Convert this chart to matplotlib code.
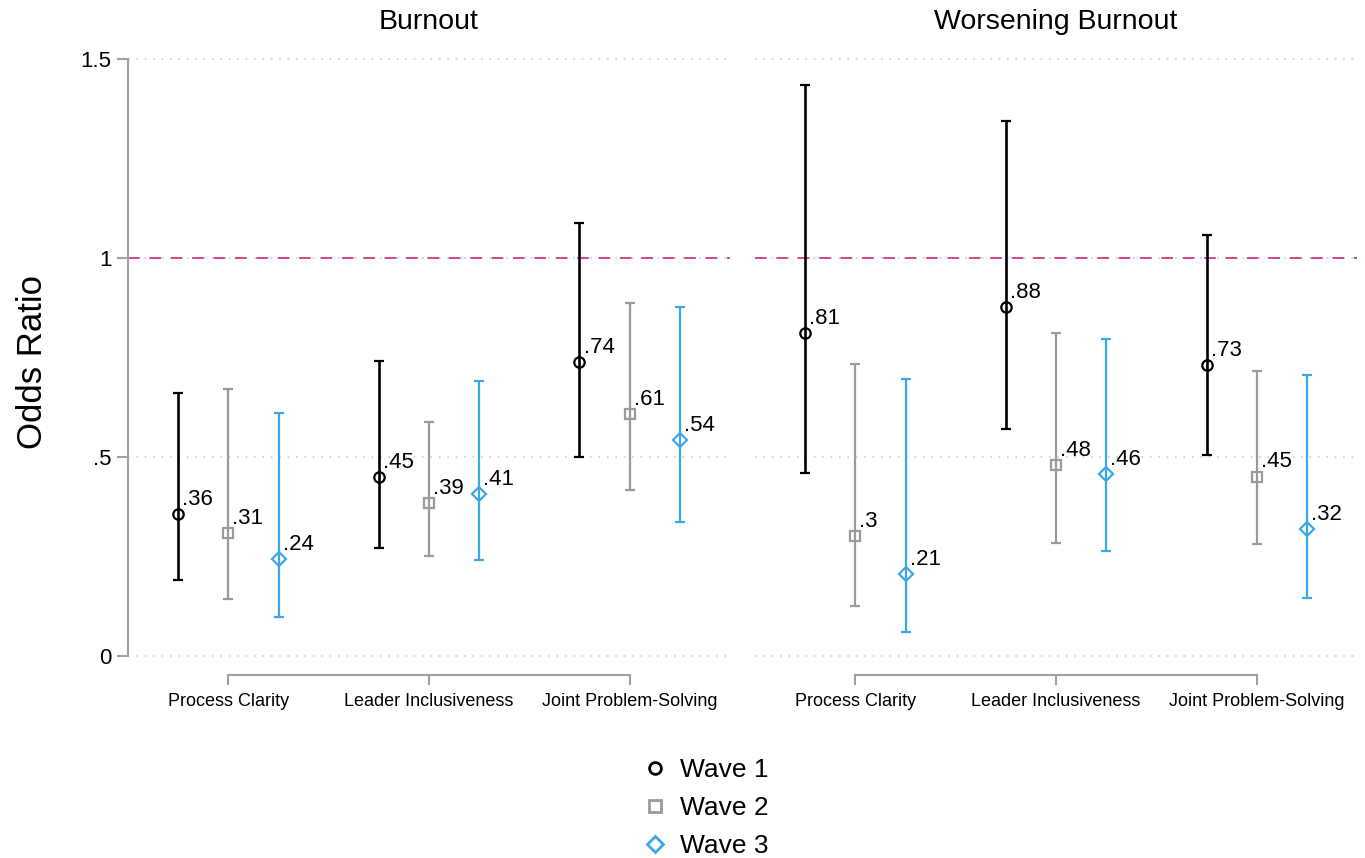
import matplotlib.pyplot as plt
from matplotlib.lines import Line2D
import numpy as np

plt.rcParams['font.family'] = ['Liberation Sans', 'DejaVu Sans']

panels = ["Burnout", "Worsening Burnout"]
categories = ["Process Clarity", "Leader Inclusiveness", "Joint Problem-Solving"]
waves = ["Wave 1", "Wave 2", "Wave 3"]

# rows = wave 1..3, columns = category
burnout_or = [[0.357, 0.449, 0.738],
              [0.310, 0.385, 0.608],
              [0.243, 0.407, 0.543]]
burnout_lo = [[0.191, 0.272, 0.500],
              [0.143, 0.251, 0.416],
              [0.098, 0.240, 0.336]]
burnout_hi = [[0.662, 0.740, 1.087],
              [0.671, 0.589, 0.888],
              [0.611, 0.691, 0.878]]

worse_or = [[0.812, 0.876, 0.732],
            [0.302, 0.479, 0.451],
            [0.206, 0.458, 0.318]]
worse_lo = [[0.459, 0.570, 0.505],
            [0.126, 0.283, 0.282],
            [0.061, 0.265, 0.145]]
worse_hi = [[1.434, 1.343, 1.059],
            [0.734, 0.812, 0.717],
            [0.695, 0.796, 0.705]]

colors = ["#000000", "#9a9a9a", "#3aa8e8"]
markers = ["o", "s", "D"]
msizes = [7.5, 7.5, 7.5]
offsets = [-0.25, 0.0, 0.25]
axis_grey = "#a0a0a0"


def fmt_label(v):
    # Stata-style: drop leading zero and trailing zeros
    return f"{v:.2f}".lstrip("0").rstrip("0")


W, H = 1365, 858
fig = plt.figure(figsize=(W / 100, H / 100), dpi=100)

ax_bot = 675
ax_top = 57
ylim = (-0.0477, 1.505)
rects = [(128, 730), (755, 1357)]

data = [(burnout_or, burnout_lo, burnout_hi), (worse_or, worse_lo, worse_hi)]
for p, (x0, x1) in enumerate(rects):
    ax = fig.add_axes([x0 / W, (H - ax_bot) / H, (x1 - x0) / W, (ax_bot - ax_top) / H])
    est, lo, hi = data[p]
    xs = np.arange(1, len(categories) + 1)
    for w in range(len(waves)):
        e = np.array(est[w])
        l = np.array(lo[w])
        h = np.array(hi[w])
        lw = 1.9 if w == 0 else 1.6
        ax.errorbar(xs + offsets[w], e, yerr=[e - l, h - e], fmt=markers[w],
                    color=colors[w], mfc="none", mec=colors[w], ms=msizes[w],
                    mew=1.6, elinewidth=lw, capsize=3.5, capthick=lw, zorder=3)
        for xi, yi in zip(xs + offsets[w], e):
            ax.annotate(fmt_label(yi), (xi, yi), xytext=(3, 10.5),
                        textcoords="offset points", ha="left", va="center",
                        fontsize=16, zorder=4)

    ax.axhline(1, color="#d4458a", lw=1.4, ls=(0, (6, 5)), zorder=2)
    ax.set_xlim(0.5, 3.5)
    ax.set_ylim(*ylim)
    ax.set_yticks([0, 0.5, 1, 1.5])
    ax.yaxis.grid(True, color="#c4c4c4", lw=1.1, ls=(0, (1, 4.5)), zorder=0)
    ax.set_axisbelow(True)
    ax.set_xticks(xs)
    ax.set_xticklabels(categories, fontsize=13)
    for s in ["top", "right"]:
        ax.spines[s].set_visible(False)
    ax.spines["bottom"].set_bounds(1, 3)
    ax.spines["bottom"].set_color(axis_grey)
    ax.spines["bottom"].set_linewidth(1.5)
    ax.tick_params(axis="x", length=7, width=1.5, color=axis_grey, pad=6)
    ax.set_title(panels[p], fontsize=20.5, pad=20)
    if p == 0:
        ax.spines["left"].set_bounds(0, 1.5)
        ax.spines["left"].set_color(axis_grey)
        ax.spines["left"].set_linewidth(1.5)
        ax.set_yticklabels(["0", ".5", "1", "1.5"], fontsize=16)
        ax.tick_params(axis="y", length=8, width=1.5, color=axis_grey, pad=4)
    else:
        ax.spines["left"].set_visible(False)
        ax.tick_params(axis="y", length=0, labelleft=False)

fig.text(32 / W, 1 - 362 / H, "Odds Ratio", rotation=90, fontsize=25,
         ha="center", va="center")

handles = [Line2D([], [], ls="none", marker=markers[w], color=colors[w],
                  mfc="none", mec=colors[w], ms=8.5, mew=2.0)
           for w in range(len(waves))]
fig.legend(handles, waves, loc="upper left", bbox_to_anchor=(642 / W, 1 - 758 / H),
           frameon=False, fontsize=19, handlelength=1.0, handletextpad=0.44,
           labelspacing=0.53, borderpad=0, borderaxespad=0)

fig.savefig("out.png", dpi=100)
